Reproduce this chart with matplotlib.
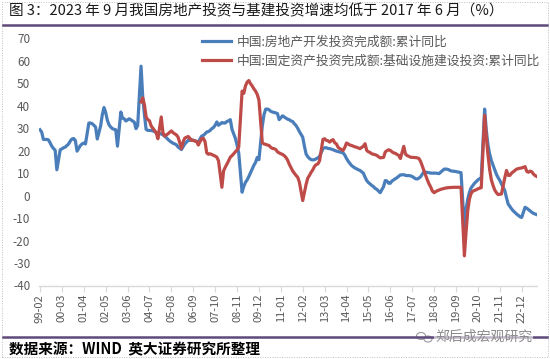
import numpy as np
import matplotlib
matplotlib.use("Agg")
import matplotlib.pyplot as plt
from matplotlib.lines import Line2D
from matplotlib.patches import Rectangle, Ellipse

plt.rcParams['font.family'] = ['Noto Sans CJK SC', 'DejaVu Sans']

N = np.nan
# ---------------- data ----------------
title = "图 3：2023 年 9 月我国房地产投资与基建投资增速均低于 2017 年 6 月（%）"
source = "数据来源：WIND  英大证券研究所整理"
watermark = "郑后成宏观研究"
label_re = "中国:房地产开发投资完成额:累计同比"
label_infra = "中国:固定资产投资完成额:基础设施建设投资:累计同比"

# months counted from 1999-02 (index 0)
re_start = 0          # 1999-02
infra_start = 60      # 2004-02

re_inv = [
    29.3, 28.3, 25, 25, 25, 24.8, 23.5, 22, 21, 20.2, 11.5,                 # 1999 Feb-Dec
    N, 20.4, 20.8, 21.3, 21.6, 22.3, 23, 24.3, 25.2, 25.4, 24.5, 19.8,       # 2000
    N, 22.3, 23, 23.4, 23, 27.5, 32.3, 32.3, 32, 31.3, 30.5, 25.2,           # 2001
    N, 31, 36, 39.2, 37, 33.5, 31.5, 30.5, 29.8, 29.5, 29.3, 22,             # 2002
    N, 37.2, 34.5, 34.2, 33.2, 33.7, 34.2, 33.7, 33.2, 32.7, 29.8, 31.2,     # 2003
    N, 57.6, 44, 36, 29.5, 29, 29, 29, 28.8, 28.5, 28, 27.5,                 # 2004
    N, 27.5, 27, 26.5, 25.8, 25, 24.3, 23.8, 23.3, 23, 22.6, 21.6,           # 2005
    N, 20.5, 21.8, 23, 23.8, 24.6, 24.6, 24.8, 24.6, 24.3, 24.1, 23.8,       # 2006
    N, 26.5, 26.8, 27.5, 28.3, 28.5, 29, 29.8, 30.3, 31.3, 32.8, 31.3,       # 2007
    N, 32.5, 32.3, 32.3, 33, 33.3, 33.8, 29.5, 27.5, 25.5, 22.5, 19,         # 2008
    N, 1.5, 4.1, 5.9, 7, 8.5, 10.2, 11.8, 13.5, 14.8, 17, 16,                # 2009
    N, 31, 36, 38.5, 38.5, 38.2, 37.5, 37.2, 37, 36.8, 36.5, 33.8,           # 2010
    N, 35.5, 35, 34.5, 34, 33.8, 33.2, 33, 32, 31.2, 30, 28.5,               # 2011
    N, 26, 22, 18.5, 17.3, 16.5, 16, 15.9, 16, 16.4, 16.8, 17.5,             # 2012
    N, 20.9, 21.3, 21.3, 21, 20.9, 20.7, 20.4, 20.1, 19.8, 19.6, 19.4,       # 2013
    N, 19, 18, 16.5, 15.3, 14.3, 13.4, 12.8, 12.3, 11.9, 11.5, 11.2,         # 2014
    N, 10, 8.2, 6.7, 5.8, 5.2, 4.5, 4, 3.2, 2.8, 2, 1.3,                     # 2015
    N, 4, 6.7, 6.5, 5.5, 5.5, 6.5, 7, 7.5, 8, 8.6, 9.2,                      # 2016
    N, 9.3, 9, 8.9, 8.9, 8.8, 8.5, 8, 7.5, 7.4, 7.8, 8.4,                    # 2017
    N, 10.7, 10.4, 10.3, 10.2, 10, 10, 10, 10, 9.9, 9.8, 10.5,               # 2018
    N, 11.8, 11.8, 11.7, 11.4, 11, 10.9, 10.8, 10.7, 10.5, 10.4, 10.2,       # 2019
    N, -15, -6, -1.5, 1.5, 3.5, 4.5, 5.5, 6.2, 7, 7.5, 7.8,                  # 2020
    N, 38.5, 29, 22.5, 18.5, 15.6, 13.5, 11.5, 9.5, 8, 6.8, 5.2,             # 2021
    N, 2.2, -1, -3.8, -4.8, -5.9, -6.8, -7.5, -8.2, -8.8, -9.4, -9.7,        # 2022
    N, -5.2, -5.6, -6.2, -6.8, -7.4, -7.9, -8.2, -8.5,                       # 2023 Jan-Sep
]

infra_inv = [
    41.7, 43.5, 40.5, 35, 33.8, 33.3, 31, 30, 29, 28, 25.3,                  # 2004 Feb-Dec
    N, 35, 28, 26.5, 27, 27.5, 28.2, 28.8, 28, 27.5, 27, 26,                 # 2005
    N, 21, 24, 25.6, 26, 26.3, 25.5, 24.6, 24.6, 24.3, 24.1, 22.5,           # 2006
    N, 25.4, 25.5, 24, 19, 18.4, 18.6, 18.3, 17.9, 17.6, 17.1, 15.5,         # 2007
    N, 3.7, 11, 12.6, 14, 15.5, 17.1, 17.8, 18.6, 19.5, 20.3, 21.6,          # 2008
    N, 46.5, 45.5, 48.8, 50.5, 51.2, 49.8, 48.8, 47.5, 46.5, 45, 42.5,       # 2009
    N, 23.5, 23, 22.8, 22.5, 22.3, 21.5, 21, 20.9, 20.5, 19.5, 19,           # 2010
    N, 18.3, 17.8, 17, 15.8, 14, 12.5, 11, 10, 9, 8.2, 6,                    # 2011
    N, -2.2, 1.5, 5, 7.8, 9, 10.4, 11.5, 13, 13.8, 14.1, 15.5,               # 2012
    N, 25, 25.3, 24.6, 24.4, 23.8, 24.5, 24.9, 23.5, 23, 21.5, 20.9,         # 2013
    N, 20.1, 21.5, 23.4, 23, 22.5, 22.3, 22, 21.7, 21.5, 21.2, 20.9,         # 2014
    N, 22, 23.1, 20.1, 19.5, 19.2, 18.6, 18.4, 18.2, 17.9, 17.3, 16.8,       # 2015
    N, 17, 19.4, 20, 20.4, 20.1, 19.5, 19, 18.8, 18.3, 17.9, 16.5,           # 2016
    N, 21.9, 18.5, 17.8, 17.5, 17.1, 17, 17, 16.9, 16.8, 16.5, 15.2,         # 2017
    N, 11, 9, 7, 5.2, 3.8, 2, 1.3, 1.8, 2.2, 2.5, 2.8,                       # 2018
    N, 3.2, 3.4, 3.5, 3.6, 3.6, 3.7, 3.7, 3.7, 3.7, 3.7, 3.7,                # 2019
    N, -26.8, -16, -6.5, -1.5, 1, 2, 2.3, 2.6, 3, 3.3, 3.5,                  # 2020
    N, 35.7, 26, 18, 11.5, 7, 4.5, 2.5, 1.3, 0.5, 0.6, 0.7,                  # 2021
    N, 8, 11.2, 9, 9, 10, 10.6, 11.2, 11.8, 12, 12.2, 12.3,                  # 2022
    N, 12.9, 10.8, 10.4, 10.9, 10.6, 9.6, 8.9, 8.5,                          # 2023 Jan-Sep
]

tick_labels = ["99-02", "00-03", "01-04", "02-05", "03-06", "04-07", "05-08", "06-09",
               "07-10", "08-11", "09-12", "11-01", "12-02", "13-03", "14-04", "15-05",
               "16-06", "17-07", "18-08", "19-09", "20-10", "21-11", "22-12"]
tick_step = 13
y_ticks = [-40, -30, -20, -10, 0, 10, 20, 30, 40, 50, 60, 70]

# ---------------- figure ----------------
W, H = 550, 359
fig = plt.figure(figsize=(W / 100, H / 100), dpi=100)
fig.patch.set_facecolor('white')

ax_l, ax_r = 38.6, 537.0
ax_t, ax_b = 38.3, 285.5
ax = fig.add_axes([ax_l / W, 1 - ax_b / H, (ax_r - ax_l) / W, (ax_b - ax_t) / H])

blue = '#4A7EBB'
red = '#BE4B48'


def draw(series, start, color, z):
    v = np.array(series, dtype=float)
    idx = np.arange(len(v)) + start
    m = ~np.isnan(v)
    ax.plot(idx[m], v[m], color=color, lw=2.3, solid_joinstyle='round', zorder=z)


draw(re_inv, re_start, blue, 3)
draw(infra_inv, infra_start, red, 4)

ax.set_xlim(-0.83, 295.1)
ax.set_ylim(-40, 70)
ax.set_yticks(y_ticks)
ax.set_yticklabels([str(t) for t in y_ticks])
tick_pos = [k * tick_step for k in range(len(tick_labels))]
ax.set_xticks(tick_pos)
ax.set_xticklabels(tick_labels, rotation=90)

for s in ['top', 'right', 'left']:
    ax.spines[s].set_visible(False)
ax.spines['bottom'].set_color('#D9D9D9')
ax.spines['bottom'].set_linewidth(1.0)
ax.tick_params(axis='x', direction='out', length=4, width=0.8, color='#D9D9D9',
               labelsize=8, labelcolor='#595959', pad=2)
ax.tick_params(axis='y', length=0, labelsize=8.5, labelcolor='#595959', pad=6)
ax.set_facecolor('none')

# legend
handles = [Line2D([], [], color=blue, lw=2.3), Line2D([], [], color=red, lw=2.3)]
fig.legend(handles, [label_re, label_infra], loc='upper left',
           bbox_to_anchor=(202 / W, 1 - 35.5 / H), frameon=False, fontsize=9.2,
           handlelength=2.25, handletextpad=0.5, labelspacing=0.45,
           borderpad=0, borderaxespad=0, labelcolor='#595959')

# title and decorations
purple = '#5F497A'
fig.text(9 / W, 1 - 11 / H, title, fontsize=10.5, va='center', ha='left', color='#1a1a1a')
fig.add_artist(Line2D([3 / W, 547 / W], [1 - 25 / H] * 2, color=purple, lw=1.8))
fig.add_artist(Line2D([3 / W, 547 / W], [1 - 336.5 / H] * 2, color=purple, lw=1.8))
# watermark (wechat-like icon + text)
fig.add_artist(Ellipse((421 / W, 1 - 336 / H), 9 / W, 7 / H, transform=fig.transFigure,
                       fill=True, facecolor='white', edgecolor='#9a9a9a', lw=0.8))
fig.add_artist(Ellipse((428 / W, 1 - 339 / H), 8 / W, 6 / H, transform=fig.transFigure,
                       fill=True, facecolor='white', edgecolor='#9a9a9a', lw=0.8))
fig.text(435 / W, 1 - 337 / H, watermark, fontsize=10, va='center', ha='left',
         color='#8c8c8c',
         bbox=dict(facecolor='white', edgecolor='none', pad=0.5, alpha=0.6))
fig.text(9 / W, 1 - 349 / H, source, fontsize=10.5, fontweight='bold',
         va='center', ha='left', color='black')
fig.add_artist(Rectangle((2 / W, 2 / H), 546 / W, 355 / H, transform=fig.transFigure,
                         fill=False, ls=(0, (1, 1.5)), lw=0.7, edgecolor='#BFBFBF'))

fig.savefig('out.png', dpi=100)
